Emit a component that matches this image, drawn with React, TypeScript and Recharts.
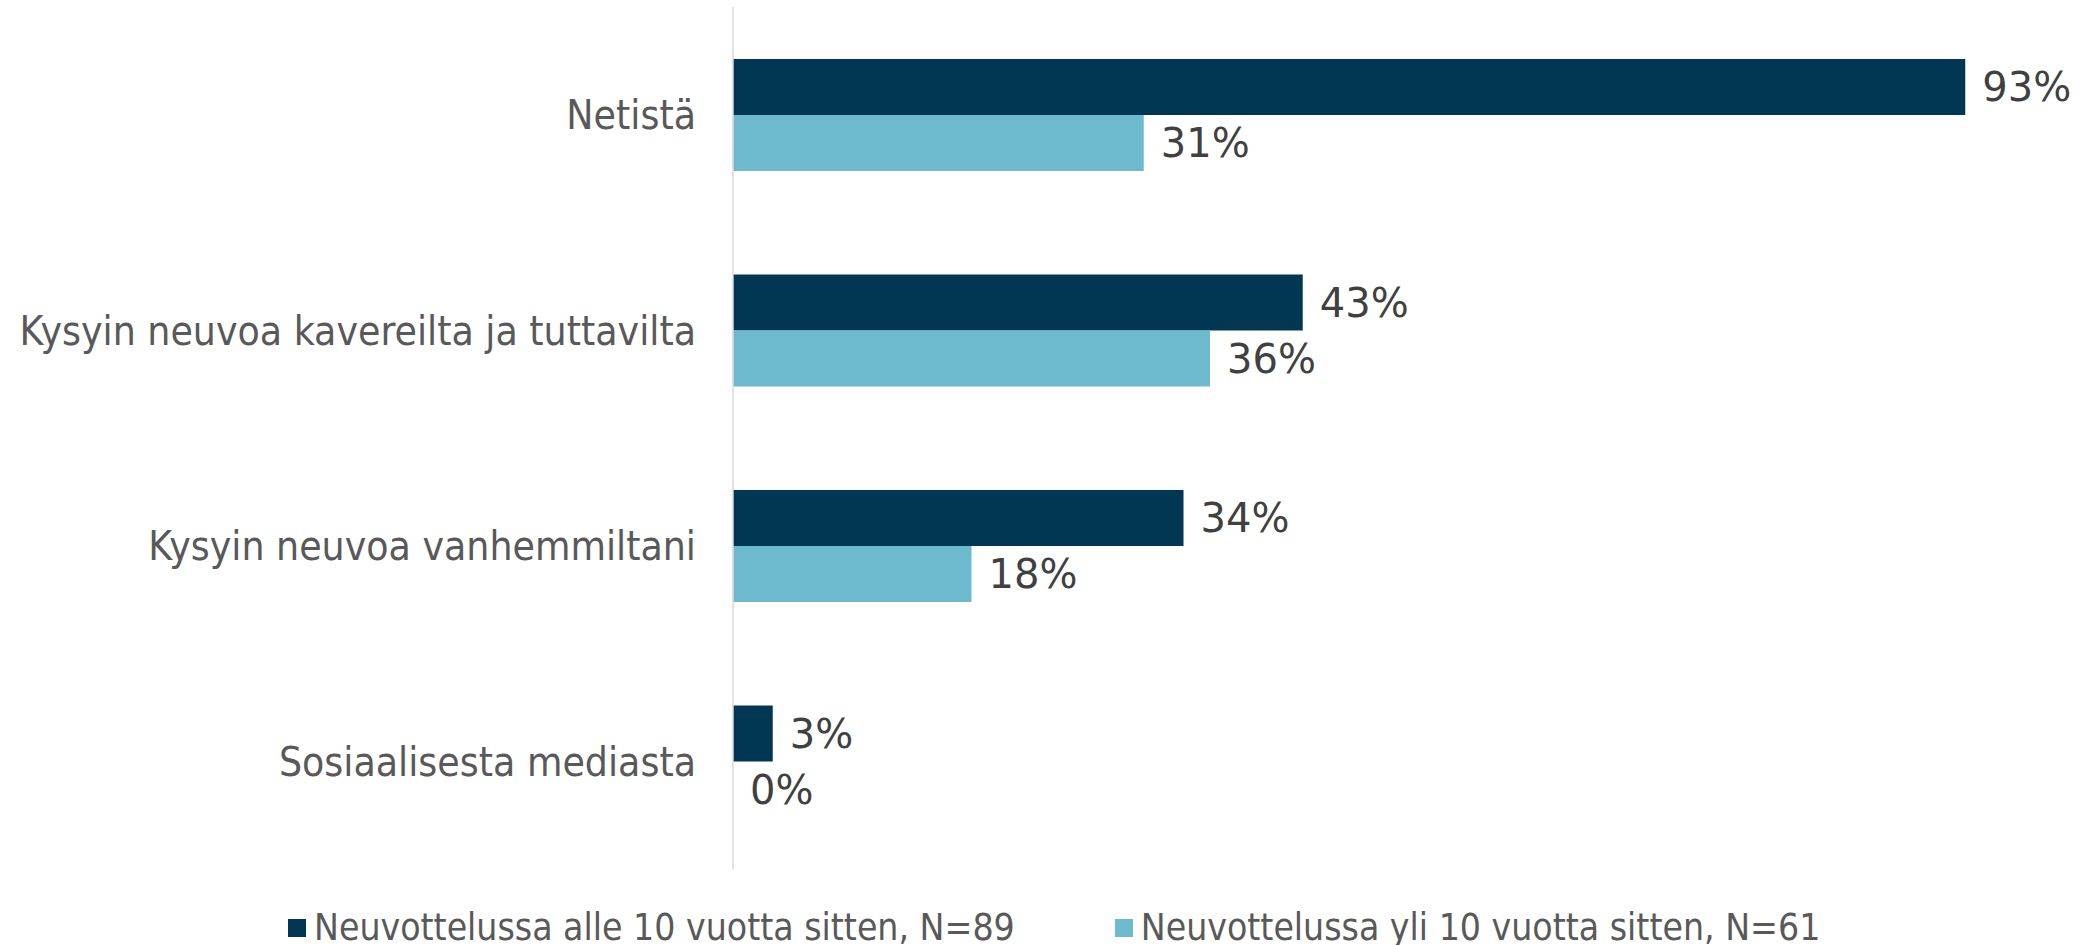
import { BarChart, Bar, XAxis, YAxis, LabelList } from 'recharts'

const categories = [
  'Netistä',
  'Kysyin neuvoa kavereilta ja tuttavilta',
  'Kysyin neuvoa vanhemmiltani',
  'Sosiaalisesta mediasta',
]
const alle10 = [93, 43, 34, 3]
const yli10 = [31, 36, 18, 0]

const seriesNames = [
  'Neuvottelussa alle 10 vuotta sitten, N=89',
  'Neuvottelussa yli 10 vuotta sitten, N=61',
]

const DARK = '#023754'
const LIGHT = '#6dbace'
const LABEL_FONT = '"Liberation Sans Narrow", "DejaVu Sans Condensed", sans-serif'
const VALUE_FONT = '"DejaVu Sans", sans-serif'

const chartData = categories.map((name, i) => ({
  name,
  alle: alle10[i],
  yli: yli10[i],
}))

const legendItems = [
  { name: seriesNames[0], color: DARK },
  { name: seriesNames[1], color: LIGHT },
]

// keeps zero-width bars in the layout so their labels are still drawn
const minSize = (v: any) => (v === 0 ? 0.01 : 0)

export default function App() {
  return (
    <div style={{ position: 'absolute', left: 0, top: 0, width: 2090, height: 945, background: '#fff' }}>
      <BarChart
        width={2090}
        height={945}
        data={chartData}
        layout="vertical"
        margin={{ top: 7, right: 32, bottom: 76, left: 0 }}
        barGap={0}
        barCategoryGap="24%"
      >
        <XAxis type="number" domain={[0, 100]} hide />
        <YAxis
          type="category"
          dataKey="name"
          width={733}
          tickLine={false}
          tickSize={0}
          tickMargin={37}
          axisLine={{ stroke: '#d9d9d9', strokeWidth: 1.5 }}
          tick={{ fill: '#595959', fontSize: 40.5, fontFamily: LABEL_FONT }}
        />
        <Bar dataKey="alle" name={seriesNames[0]} fill={DARK} barSize={56} minPointSize={minSize} isAnimationActive={false}>
          <LabelList
            dataKey="alle"
            position="right"
            offset={17}
            formatter={(v: any) => `${v}%`}
            style={{ fill: '#404040', fontSize: 40, fontFamily: VALUE_FONT }}
          />
        </Bar>
        <Bar dataKey="yli" name={seriesNames[1]} fill={LIGHT} barSize={56} minPointSize={minSize} isAnimationActive={false}>
          <LabelList
            dataKey="yli"
            position="right"
            offset={17}
            formatter={(v: any) => `${v}%`}
            style={{ fill: '#404040', fontSize: 40, fontFamily: VALUE_FONT }}
          />
        </Bar>
      </BarChart>

      <div
        style={{
          position: 'absolute',
          left: 288,
          top: 906,
          display: 'flex',
          alignItems: 'center',
          fontFamily: LABEL_FONT,
          fontSize: 37,
          color: '#595959',
          lineHeight: '44px',
        }}
      >
        {legendItems.map((it, i) => (
          <div key={i} style={{ display: 'flex', alignItems: 'center', marginRight: i === 0 ? 100 : 0 }}>
            <span style={{ width: 18, height: 18, background: it.color, display: 'inline-block', marginRight: 8 }} />
            <span style={{ whiteSpace: 'nowrap' }}>{it.name}</span>
          </div>
        ))}
      </div>
    </div>
  )
}
